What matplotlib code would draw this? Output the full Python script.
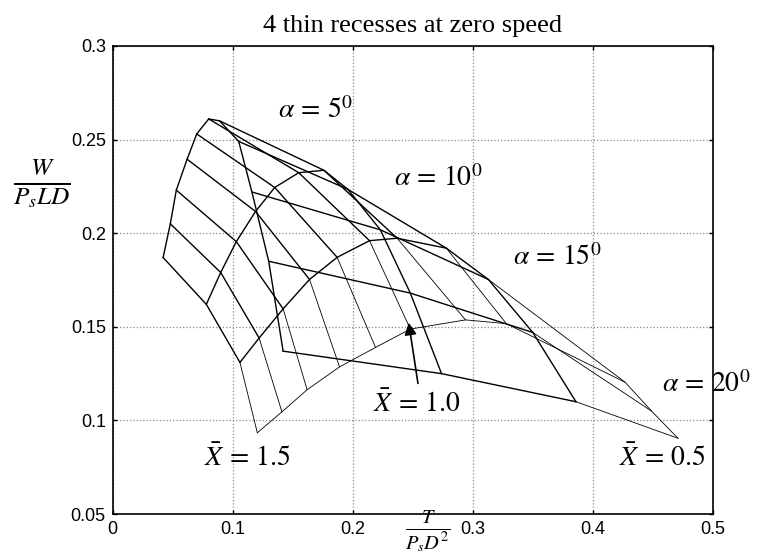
import matplotlib
matplotlib.use("Agg")
import matplotlib.pyplot as plt
import numpy as np

plt.rcParams['mathtext.fontset'] = 'stix'
plt.rcParams['font.family'] = ['Liberation Sans', 'DejaVu Sans']

# X-bar values along each alpha curve (columns of the carpet)
xbar = [1.5, 1.4, 1.3, 1.2, 1.1, 1.0, 0.9, 0.8, 0.7, 0.6, 0.5]
alphas = [5, 10, 15, 20]

# T/(Ps D^2) for each alpha (rows) and X-bar (columns)
t_a5 = [0.042, 0.048, 0.053, 0.062, 0.070, 0.080, 0.089, 0.105, 0.116, 0.130, 0.142]
t_a10 = [0.078, 0.090, 0.103, 0.119, 0.135, 0.155, 0.176, 0.196, 0.223, 0.248, 0.274]
t_a15 = [0.106, 0.122, 0.142, 0.164, 0.187, 0.214, 0.237, 0.278, 0.313, 0.350, 0.386]
t_a20 = [0.1205, 0.141, 0.162, 0.189, 0.219, 0.248, 0.294, 0.328, 0.427, 0.449, 0.471]

# W/(Ps L D)
w_a5 = [0.187, 0.205, 0.223, 0.2395, 0.253, 0.261, 0.260, 0.249, 0.222, 0.185, 0.137]
w_a10 = [0.162, 0.179, 0.1955, 0.2116, 0.2244, 0.2323, 0.2336, 0.2234, 0.2018, 0.168, 0.125]
w_a15 = [0.131, 0.144, 0.1596, 0.1753, 0.1871, 0.196, 0.1973, 0.192, 0.1753, 0.147, 0.110]
w_a20 = [0.0934, 0.1046, 0.1164, 0.1286, 0.139, 0.1488, 0.1537, 0.1517, 0.1204, 0.105, 0.0905]

T = np.array([t_a5, t_a10, t_a15, t_a20])
W = np.array([w_a5, w_a10, w_a15, w_a20])

fig = plt.figure(figsize=(7.58, 5.6), dpi=100)
ax = fig.add_axes([0.1487, 0.082, 0.7916, 0.836])

# constant alpha curves
for i in range(len(alphas)):
    lw = 0.6 if alphas[i] == 20 else 1.0
    ax.plot(T[i], W[i], color='black', lw=lw)
# constant X-bar lines
for j in range(len(xbar)):
    ax.plot(T[:3, j], W[:3, j], color='black', lw=1.0)
    ax.plot(T[2:, j], W[2:, j], color='black', lw=0.6)

ax.set_xlim(0, 0.5)
ax.set_ylim(0.05, 0.3)
ax.set_xticks([0, 0.1, 0.2, 0.3, 0.4, 0.5])
ax.set_xticklabels(['0', '0.1', '0.2', '0.3', '0.4', '0.5'])
ax.set_yticks([0.05, 0.1, 0.15, 0.2, 0.25, 0.3])
ax.set_yticklabels(['0.05', '0.1', '0.15', '0.2', '0.25', '0.3'])
ax.tick_params(direction='in', length=3, labelsize=13, top=True, right=True, width=1, pad=5)
ax.grid(True, color='#888888', linestyle=':', linewidth=0.9)
for s in ax.spines.values():
    s.set_linewidth(1.2)

ax.set_title('4 thin recesses at zero speed', fontsize=19, family='Liberation Serif', pad=10)

fig.text(0.055, 0.672, r'$\frac{W}{P_sLD}$', fontsize=26, ha='center', va='center')
fig.text(0.564, 0.052, r'$\frac{T}{P_sD^2}$', fontsize=21, ha='center', va='center')

ax.text(0.169, 0.2656, r'$\alpha\,=\,5^0$', fontsize=20, ha='center', va='center')
ax.text(0.271, 0.2294, r'$\alpha\,=\,10^0$', fontsize=20, ha='center', va='center')
ax.text(0.3706, 0.187, r'$\alpha\,=\,15^0$', fontsize=20, ha='center', va='center')
ax.text(0.4578, 0.1194, r'$\alpha\,=\,20^0$', fontsize=20, ha='left', va='center', clip_on=False)
ax.text(0.1123, 0.080, r'$\bar{X}\,=\,1.5$', fontsize=20, ha='center', va='center')
ax.text(0.458, 0.080, r'$\bar{X}\,=\,0.5$', fontsize=20, ha='center', va='center')
ax.text(0.2533, 0.1087, r'$\bar{X}\,=\,1.0$', fontsize=20, ha='center', va='center')
ax.annotate('', xy=(0.2463, 0.1537), xytext=(0.2547, 0.1183),
            arrowprops=dict(arrowstyle='-|>', color='black', lw=1.2, mutation_scale=18))

fig.savefig('out.png', dpi=100)
